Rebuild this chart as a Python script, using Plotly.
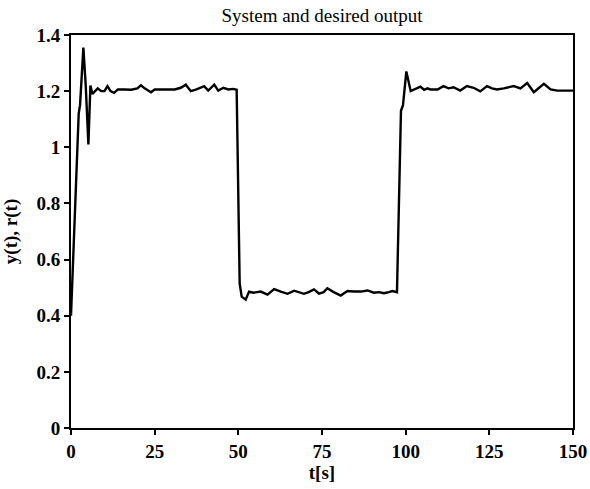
import plotly.graph_objects as go

t = [0, 2.3, 2.7, 3.7, 4.4, 5.2, 5.8, 6.4, 7.2, 8, 9, 10, 10.9, 11.8, 12.9, 14, 16, 18, 19.8, 20.9, 22, 23.9, 25, 27, 29, 31,
     32.8, 34.3, 35.8, 37.5, 39.8, 41, 42.8, 44, 45.5, 47, 48.5, 49.5,
     50.4, 51, 52.2, 53.2, 54.5, 56.7, 58.7, 60.7, 62.7, 64.7, 66.7, 68, 69.6, 71, 72.6, 74.1, 75.5, 76.6, 78.5, 80.6, 82.6,
     84.5, 86.6, 88.6, 90.5, 92, 93.5, 95, 96, 97.4,
     98.6, 99.2, 100.2, 101.5, 102.5, 104.4, 105.5, 106.5, 107.4, 109.5, 111.3, 112.8, 114.3, 116.3, 118.3, 120.3, 122.3,
     124.3, 125.8, 127.3, 129.3, 132.3, 134.3, 136.3, 138.3, 139.8, 141.3, 143.3, 145.3, 147, 149.3, 150]
y = [0.40, 1.12, 1.15, 1.355, 1.22, 1.01, 1.22, 1.19, 1.20, 1.21, 1.20, 1.20, 1.218, 1.20, 1.194, 1.206, 1.206, 1.205, 1.21, 1.221, 1.21, 1.196, 1.206, 1.206, 1.205, 1.206,
     1.212, 1.223, 1.20, 1.206, 1.218, 1.202, 1.223, 1.202, 1.212, 1.206, 1.208, 1.205,
     0.515, 0.468, 0.457, 0.486, 0.482, 0.486, 0.475, 0.495, 0.486, 0.478, 0.489, 0.484, 0.478, 0.484, 0.494, 0.479, 0.484, 0.498, 0.484, 0.472, 0.488,
     0.486, 0.486, 0.49, 0.482, 0.484, 0.48, 0.484, 0.488, 0.484,
     1.13, 1.15, 1.27, 1.20, 1.205, 1.216, 1.205, 1.21, 1.206, 1.206, 1.218, 1.21, 1.214, 1.202, 1.218, 1.212, 1.199,
     1.218, 1.21, 1.206, 1.21, 1.218, 1.21, 1.229, 1.196, 1.212, 1.226, 1.206, 1.202, 1.202, 1.202, 1.202]

x_ticks = [0, 25, 50, 75, 100, 125, 150]
y_ticks = [0, 0.2, 0.4, 0.6, 0.8, 1, 1.2, 1.4]
y_tick_text = ["0", "0.2", "0.4", "0.6", "0.8", "1", "1.2", "1.4"]

fig = go.Figure()
fig.add_trace(go.Scatter(x=t, y=y, mode="lines", line=dict(color="black", width=2.4), showlegend=False))

font_ax = dict(family="Liberation Serif", size=19, color="black")
tick_font = dict(family="Liberation Serif", size=19, color="black", weight="bold")
fig.update_layout(
    width=590, height=489,
    margin=dict(l=70.5, r=17, t=35, b=61),
    paper_bgcolor="white", plot_bgcolor="white",
    title=dict(text="System and desired output", x=0.5, xref="paper", y=1 - 15 / 489, yref="container", yanchor="middle",
               font=dict(family="Liberation Serif", size=19, color="black")),
    font=dict(family="Liberation Serif", color="black"),
)
fig.update_xaxes(range=[0, 150], tickvals=x_ticks, ticks="outside", ticklen=5, tickwidth=2, tickcolor="black",
                 showline=True, linecolor="black", linewidth=2, mirror=True, showgrid=False, zeroline=False,
                 tickfont=tick_font, automargin=False,
                 title=dict(text="<b>t[s]</b>", font=font_ax, standoff=2))
fig.update_yaxes(range=[0, 1.4], tickvals=y_ticks, ticktext=y_tick_text, ticks="outside", ticklen=5, tickwidth=2, tickcolor="black",
                 showline=True, linecolor="black", linewidth=2, mirror=True, showgrid=False, zeroline=False,
                 tickfont=tick_font, automargin=False,
                 title=dict(text="<b>y(t), r(t)</b>", font=font_ax, standoff=14))
fig.write_html("out.html", config={"displayModeBar": False},
               post_script="document.body.style.margin='0';document.body.style.overflow='hidden';")
